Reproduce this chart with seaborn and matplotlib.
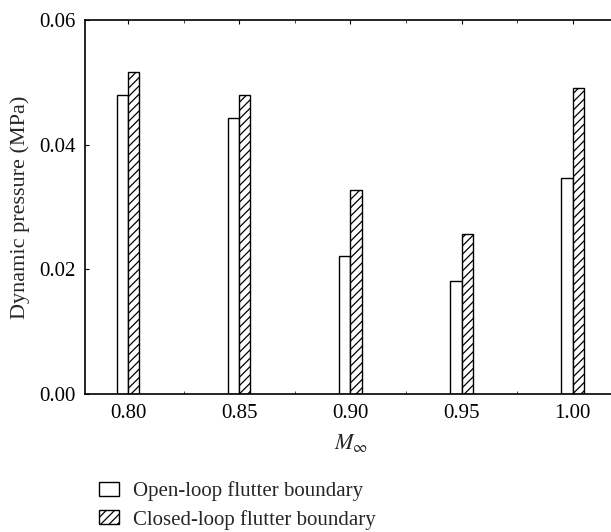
import matplotlib
matplotlib.use("Agg")
import matplotlib.pyplot as plt
import seaborn as sns
import pandas as pd
from matplotlib.ticker import FixedLocator

mach = ["0.80", "0.85", "0.90", "0.95", "1.00"]
open_loop = [0.0480, 0.0443, 0.0222, 0.0182, 0.0346]
closed_loop = [0.0517, 0.0480, 0.0328, 0.0256, 0.0491]
series_names = ["Open-loop flutter boundary", "Closed-loop flutter boundary"]
y_ticks = [0.00, 0.02, 0.04, 0.06]

df = pd.DataFrame({
    "Mach": mach * 2,
    "q": open_loop + closed_loop,
    "series": [series_names[0]] * len(mach) + [series_names[1]] * len(mach),
})

sns.set_theme(style="ticks")
plt.rcParams["font.family"] = ["Liberation Serif", "DejaVu Serif"]
plt.rcParams["mathtext.fontset"] = "stix"
plt.rcParams["hatch.linewidth"] = 0.9

fig = plt.figure(figsize=(6.11, 5.32), dpi=100)
ax = fig.add_axes([85 / 611, (532 - 394) / 532, (617 - 85) / 611, (394 - 20) / 532])

sns.barplot(data=df, x="Mach", y="q", hue="series", order=mach,
            hue_order=series_names, palette=["white", "white"],
            edgecolor="black", linewidth=1.0, width=0.2, dodge=True,
            saturation=1, ax=ax, legend=False)

for patch in ax.containers[1]:
    patch.set_hatch("////")

ax.set_xlim(-0.39, 4.4)
ax.set_ylim(0, 0.06)
ax.set_yticks(y_ticks)
ax.set_yticklabels([f"{v:.2f}" for v in y_ticks])
ax.xaxis.set_minor_locator(FixedLocator([i + 0.5 for i in range(-1, 5)]))

for s in ["left", "bottom", "top"]:
    ax.spines[s].set_visible(True)
    ax.spines[s].set_linewidth(1.2)
    ax.spines[s].set_color("black")
ax.spines["right"].set_visible(False)

ax.tick_params(axis="both", which="major", direction="in", length=3, width=0.8,
               labelsize=15, colors="black", top=True, right=False)
ax.tick_params(axis="x", which="minor", direction="in", length=2, width=0.6, top=True)
ax.tick_params(axis="y", which="major", pad=7)
ax.tick_params(axis="x", which="major", pad=7)

ax.set_xlabel(r"$M_\infty$", fontsize=16, labelpad=7)
ax.set_ylabel("Dynamic pressure (MPa)", fontsize=16, labelpad=6)

handles = [ax.containers[0][0], ax.containers[1][0]]
fig.legend(handles, series_names, loc="upper left",
           bbox_to_anchor=(84 / 611, 1 - 467 / 532), frameon=False,
           fontsize=15, handlelength=1.0, handleheight=0.67,
           handletextpad=0.67, labelspacing=0.39, borderpad=0.2)

fig.savefig("out.png", dpi=100)
